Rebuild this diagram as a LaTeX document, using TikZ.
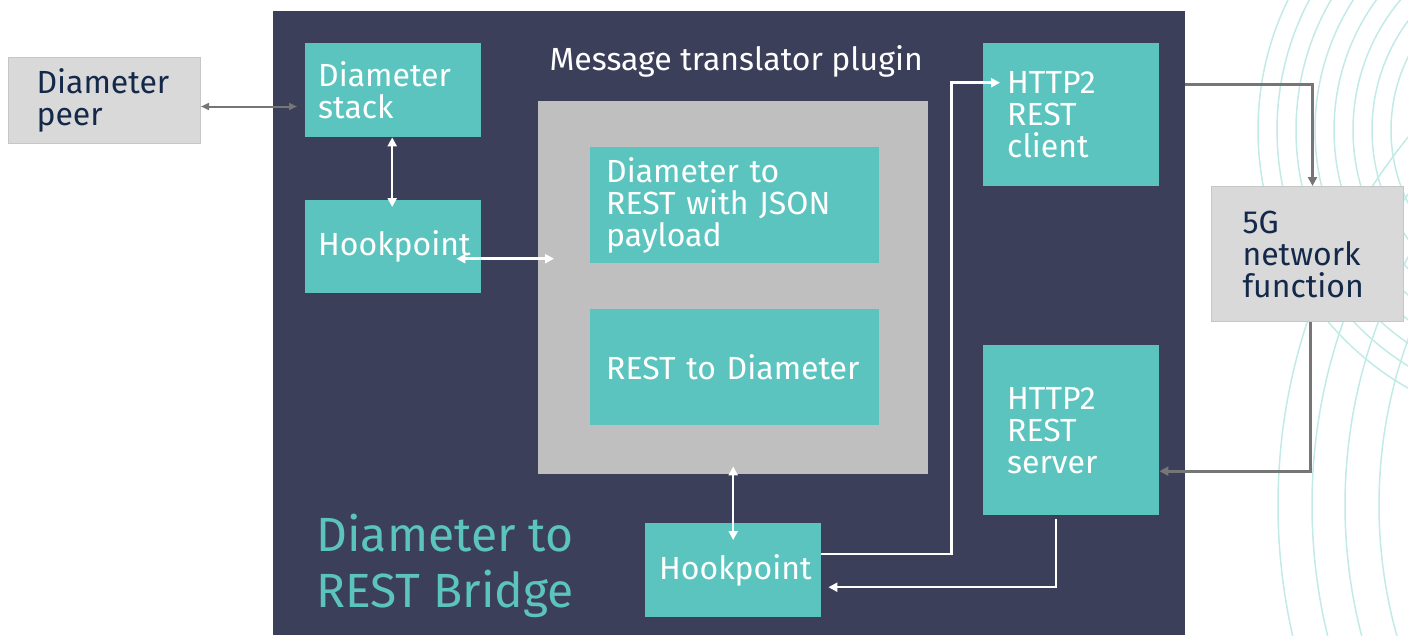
\documentclass[tikz,border=0pt]{standalone}
\usepackage{fontspec}
\setmainfont{Fira Sans}
\usetikzlibrary{arrows.meta}
\definecolor{bridgebg}{HTML}{3C3F5A}
\definecolor{boxteal}{HTML}{5CC4BE}
\definecolor{plugingrey}{HTML}{BFBFBF}
\definecolor{peergrey}{HTML}{D9D9D9}
\definecolor{peerline}{HTML}{C6C6C6}
\definecolor{peertext}{HTML}{14294A}
\definecolor{arrowgrey}{HTML}{767676}
\definecolor{ringteal}{HTML}{C2EAE7}
\begin{document}
\begin{tikzpicture}[x=1pt, y=-1pt,
    >={Triangle[length=9pt,width=9pt]},
    box/.style={anchor=north west, inner xsep=#1, inner ysep=0pt, align=left,
        font=\fontsize{32}{32}\selectfont},
    tealbox/.style={box=#1, fill=boxteal, text=white},
    greybox/.style={box=#1, fill=peergrey, draw=peerline, line width=1pt, text=peertext},
    wline/.style={draw=white, line width=2.5pt},
    gline/.style={draw=arrowgrey, line width=3pt},
    ring/.style={draw=ringteal, line width=1.5pt}]
    \useasboundingbox (0,0) rectangle (1408,635);
    % rings behind the network function
    \begin{scope}
        \clip (0,0) rectangle (1408,635);
        \foreach \r in {297,278,259,240,221,202,183,164}
            \draw[ring] (1555,130) circle[radius=\r];
        \foreach \r in {585,551,518,484}
            \draw[ring] (1863,505) circle[radius=\r];
    \end{scope}
    \node[fill=bridgebg, anchor=north west, minimum width=912pt, minimum height=624pt, inner sep=0pt] (bridge) at (273,11) {};
    \node[fill=plugingrey, anchor=north west, minimum width=390pt, minimum height=373pt, inner sep=0pt] (plugin) at (538,101) {};
    \node[anchor=base west, text=white, font=\fontsize{32}{32}\selectfont] (plugtitle) at (546,70) {Message translator plugin};
    \node[anchor=base west, align=left, text=boxteal, font=\fontsize{48}{56}\selectfont] (bridgetitle) at (313,607) {Diameter to\\REST Bridge};
    \node[greybox=28pt, text width=136pt, minimum height=86pt] (peer) at (8,57) {Diameter\\peer};
    \node[tealbox=13pt, text width=150pt, minimum height=94pt] (stack) at (305,43) {Diameter\\stack};
    \node[tealbox=13pt, text width=150pt, minimum height=93pt] (hookA) at (305,200) {Hookpoint};
    \node[tealbox=16pt, text width=257pt, minimum height=116pt] (json) at (590,147) {Diameter to\\REST with JSON\\payload};
    \node[tealbox=16pt, text width=257pt, minimum height=116pt] (rtod) at (590,309) {REST to Diameter};
    \node[tealbox=14pt, text width=148pt, minimum height=94pt] (hookB) at (645,523) {Hookpoint};
    \node[tealbox=24pt, text width=128pt, minimum height=143pt] (client) at (983,43) {HTTP2\\REST\\client};
    \node[tealbox=24pt, text width=128pt, minimum height=170pt] (server) at (983,345) {HTTP2\\REST\\server};
    \node[greybox=31pt, text width=130pt, minimum height=135pt] (nf) at (1211,186) {5G\\network\\function};
    % connectors
    \draw[gline, line width=2pt, <->, >={Triangle[length=8pt,width=7pt]}, shorten >=8pt] ([yshift=-6pt]peer.east) -- ([yshift=-6pt]peer.east -| stack.west);
    \draw[wline, <->, shorten >=-7pt] ([xshift=-1pt]stack.south) -- ([xshift=-1pt]hookA.north);
    \coordinate (hA) at ([yshift=-12pt]hookA.east);
    \draw[wline, <->, shorten <=-25pt, shorten >=-16pt] (hA) -- (hA -| plugin.west);
    \draw[wline, <->, shorten <=-8pt, shorten >=-17pt] (hookB.north |- plugin.south) -- (hookB.north);
    \draw[wline, ->] ([yshift=16pt]hookB.east) -- ++(130,0) |- ([yshift=32pt]client.west) -- ++(17,0);
    \draw[wline, ->] ([xshift=-15pt,yshift=-4pt]server.south) |- ([xshift=7pt,yshift=-17pt]hookB.east);
    \coordinate (cl) at ([yshift=30pt]client.east);
    \draw[gline, ->] (cl -| bridge.east) -| ([xshift=5pt]nf.north);
    \draw[gline, ->] ([xshift=3pt]nf.south) |- ([yshift=-41pt]server.east);
\end{tikzpicture}
\end{document}
